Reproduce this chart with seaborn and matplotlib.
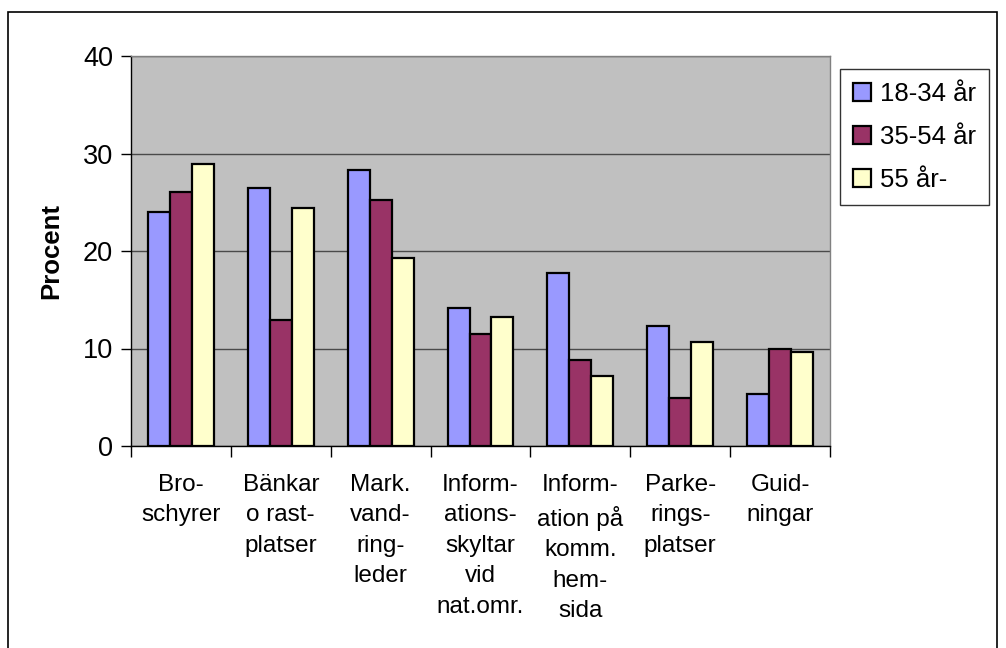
import pandas as pd
import matplotlib
matplotlib.use("Agg")
import matplotlib.pyplot as plt
import seaborn as sns
from matplotlib.patches import Rectangle

# Kategorier och värden (procent) per åldersgrupp
kategorier = ["Bro-\nschyrer", "Bänkar\no rast-\nplatser", "Mark.\nvand-\nring-\nleder",
              "Inform-\nations-\nskyltar\nvid\nnat.omr.", "Inform-\nation på\nkomm.\nhem-\nsida",
              "Parke-\nrings-\nplatser", "Guid-\nningar"]
grupper = ["18-34 år", "35-54 år", "55 år-"]
v_18_34 = [24.0, 26.5, 28.3, 14.2, 17.7, 12.3, 5.3]
v_35_54 = [26.1, 12.9, 25.2, 11.5, 8.8, 4.9, 9.9]
v_55 = [28.9, 24.4, 19.3, 13.2, 7.2, 10.7, 9.6]
farger = ["#9999FF", "#993366", "#FFFFCC"]

df = pd.DataFrame({
    "kategori": kategorier * 3,
    "grupp": [g for g in grupper for _ in kategorier],
    "procent": v_18_34 + v_35_54 + v_55,
})

sns.set_style("white")
plt.rcParams["font.family"] = ["Liberation Sans", "DejaVu Sans"]
plt.rcParams["text.color"] = "black"
plt.rcParams["xtick.color"] = "black"
plt.rcParams["ytick.color"] = "black"
plt.rcParams["axes.labelcolor"] = "black"

fig = plt.figure(figsize=(10.06, 6.48), dpi=100)
ax = fig.add_axes([131 / 1006, 1 - 446 / 648, 699 / 1006, 390 / 648])

sns.barplot(data=df, x="kategori", y="procent", hue="grupp", palette=farger,
            saturation=1, width=0.66, edgecolor="black", linewidth=1.6, ax=ax, legend=True)

ax.set_facecolor("#C0C0C0")
ax.set_ylim(0, 40)
ax.set_xlim(-0.5, len(kategorier) - 0.5)
ax.set_yticks([0, 10, 20, 30, 40])
ax.yaxis.grid(True, color="#4a4a4a", linewidth=1.0)
ax.set_axisbelow(True)

# tickmarks mellan grupperna
ax.set_xticks([i + 0.5 for i in range(-1, len(kategorier))], minor=True)
ax.tick_params(axis="x", which="minor", bottom=True, length=8, width=1, color="black", direction="out")
ax.tick_params(axis="x", which="major", bottom=False, length=0, pad=20, labelsize=17.5)
ax.tick_params(axis="y", left=True, length=7, width=1, color="black", direction="out",
               labelsize=19.5, pad=6)
ax.set_xlabel("")
ax.set_ylabel("Procent", fontsize=18.5, fontweight="bold", labelpad=14)
for lbl in ax.get_xticklabels():
    lbl.set_linespacing(1.5)

for side in ["left", "bottom"]:
    ax.spines[side].set_color("black")
    ax.spines[side].set_linewidth(1)
for side in ["top", "right"]:
    ax.spines[side].set_color("#808080")
    ax.spines[side].set_linewidth(1)

leg = ax.legend(title=None, loc="upper left", bbox_to_anchor=(840 / 1006, 1 - 69 / 648),
                bbox_transform=fig.transFigure, fontsize=18.5, frameon=True, fancybox=False,
                edgecolor="black", handlelength=0.7, handleheight=0.7, handletextpad=0.35,
                labelspacing=0.75, borderpad=0.5, borderaxespad=0)
leg.get_frame().set_linewidth(1)

# ram runt hela diagrammet
fig.patches.append(Rectangle((8 / 1006, -0.01), 989 / 1006, 1 - 12 / 648 + 0.01,
                             transform=fig.transFigure, fill=False, edgecolor="black",
                             linewidth=1.2))

fig.savefig("out.png", dpi=100)
